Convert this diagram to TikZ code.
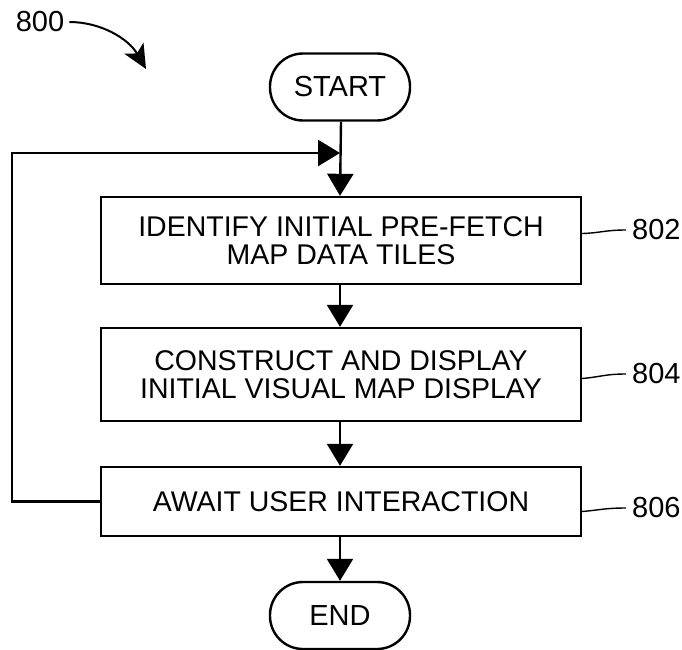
\documentclass[tikz,border=0pt]{standalone}
\usepackage{fontspec}
\setmainfont{Liberation Sans}
\usetikzlibrary{arrows.meta}
\begin{document}
\begin{tikzpicture}[x=1pt,y=-1pt,
  line width=2.4pt,
  term/.style={draw, rounded corners=33pt, minimum width=140pt, minimum height=67pt, inner sep=0pt, font=\fontsize{29}{31}\selectfont},
  procbox/.style={draw, minimum width=480pt, inner sep=0pt, align=center, font=\fontsize{28.5}{28.5}\selectfont},
  arr/.style={-{Triangle[length=22pt,width=26pt]}},
  reflabel/.style={inner sep=5pt, anchor=west, font=\fontsize{29}{31}\selectfont},
  leader/.style={line width=1.4pt}
]
\useasboundingbox (0,0) rectangle (682,649);
% terminals
\node[term] (start) at (340,87) {START};
\node[term] (end) at (340,615.5) {END};
% process boxes
\node[procbox, minimum height=87pt] (b802) at (341,240.5) {IDENTIFY INITIAL PRE-FETCH\\MAP DATA TILES};
\node[procbox, minimum height=93pt] (b804) at (341,374.5) {CONSTRUCT AND DISPLAY\\INITIAL VISUAL MAP DISPLAY};
\node[procbox, minimum height=69pt] (b806) at (341,501.5) {AWAIT USER INTERACTION};
% main flow
\draw[arr] (start.south -| b802.north) -- (b802.north -| start.south);
\draw[arr] ([xshift=-1pt]b802.south) -- ([xshift=-1pt]b804.north);
\draw[arr] ([xshift=-1pt]b804.south) -- ([xshift=-1pt]b806.north);
\draw[arr] ([xshift=-1pt]b806.south) -- (end.north);
% loop back
\coordinate (loopL) at (12,501.5);
\coordinate (join) at (340,153);
\draw[arr] (b806.west) -- (loopL) |- (join);
% reference labels
\node[reflabel] (t802) at (626,230) {802};
\node[reflabel] (t804) at (626,374) {804};
\node[reflabel] (t806) at (626,508) {806};
\draw[leader] ([yshift=7pt]b802.east) .. controls (600,233) and (605,230) .. (t802.west);
\draw[leader] ([yshift=-4pt]b804.east) .. controls (600,377) and (605,374) .. (t804.west);
\draw[leader] ([yshift=-10pt]b806.east) .. controls (600,510) and (605,508) .. (t806.west);
% figure label
\node[font=\fontsize{29}{31}\selectfont, inner sep=4pt] (f800) at (40,22) {800};
\coordinate (f800tip) at (146,69);
\draw[line width=2pt, -{Stealth[length=24pt,width=22pt,inset=6pt]}] (f800.east) .. controls (100,22) and (128,38) .. (f800tip);
\end{tikzpicture}
\end{document}
